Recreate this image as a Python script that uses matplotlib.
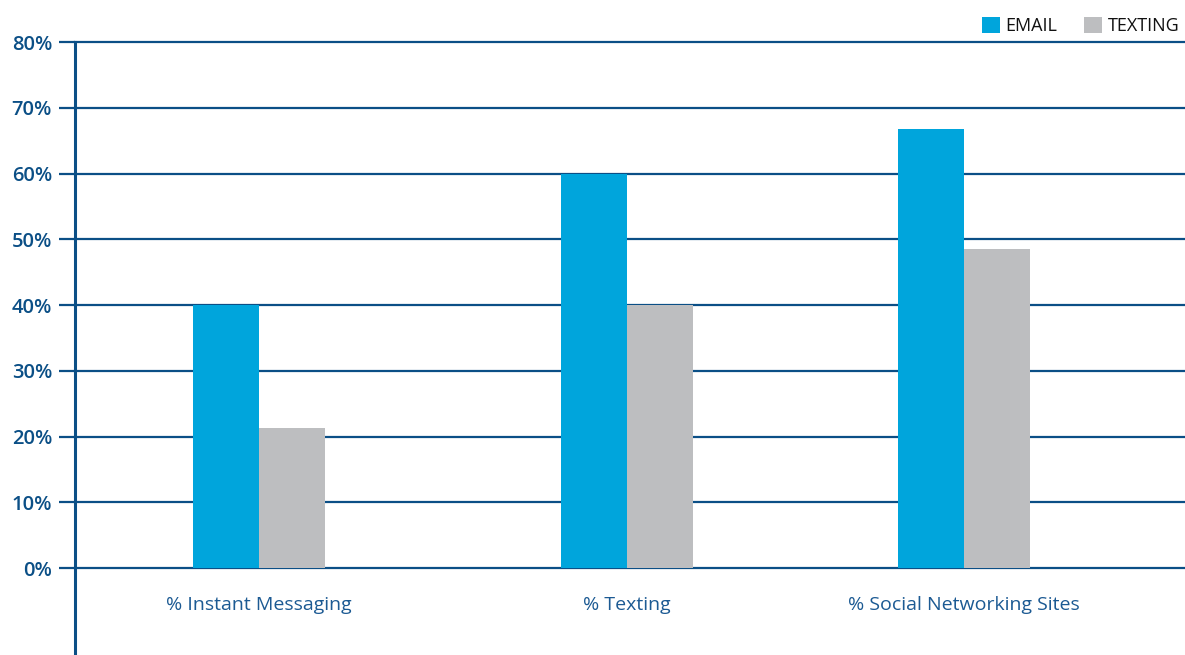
import matplotlib
matplotlib.use("Agg")
import matplotlib.pyplot as plt
from matplotlib.patches import Patch

# Data
categories = ["% Instant Messaging", "% Texting", "% Social Networking Sites"]
email = [40.0, 60.0, 66.8]
texting = [21.3, 40.0, 48.5]
series_names = ["EMAIL", "TEXTING"]
y_ticks = [0, 10, 20, 30, 40, 50, 60, 70, 80]
y_tick_labels = [f"{v}%" for v in y_ticks]

# Layout
group_x = [259, 627, 964]
bar_w = 66
email_color = "#00a5dc"
text_color_bar = "#bdbec0"
navy = "#0b4f86"

plt.rcParams["font.family"] = ["Open Sans", "DejaVu Sans"]

fig = plt.figure(figsize=(11.85, 6.55), dpi=100)
ax = fig.add_axes([75 / 1185, 0.0, 1 - 75 / 1185, 1 - 42 / 655])
ax.set_xlim(75, 1185)
ax.set_ylim(-13.23, 80)

for y in y_ticks:
    ax.axhline(y, color=navy, lw=1.6, zorder=1, clip_on=False)

ax.bar([x - bar_w / 2 for x in group_x], email, width=bar_w,
       color=email_color, zorder=3)
ax.bar([x + bar_w / 2 for x in group_x], texting, width=bar_w,
       color=text_color_bar, zorder=3)

for s in ["top", "right", "bottom"]:
    ax.spines[s].set_visible(False)
ax.spines["left"].set_color(navy)
ax.spines["left"].set_linewidth(2.2)

ax.set_yticks(y_ticks)
ax.set_yticklabels(y_tick_labels, fontsize=14.5, color=navy, fontweight="semibold")
ax.tick_params(axis="y", length=11.5, width=1.6, color=navy, pad=5)
ax.set_xticks([])

for x, label in zip(group_x, categories):
    ax.text(x, -5.6, label, ha="center", va="center", fontsize=14,
            color="#1c5a93")

handles = [Patch(facecolor=email_color, edgecolor="none"),
           Patch(facecolor=text_color_bar, edgecolor="none")]
fig.legend(handles, series_names, loc="upper right", bbox_to_anchor=(1.006, 0.993),
           ncol=2, frameon=False, fontsize=13, handlelength=1.0, handleheight=1.0,
           handletextpad=0.3, columnspacing=1.5, labelcolor="#111111",
           borderaxespad=0.3)

fig.savefig("out.png", dpi=100)
